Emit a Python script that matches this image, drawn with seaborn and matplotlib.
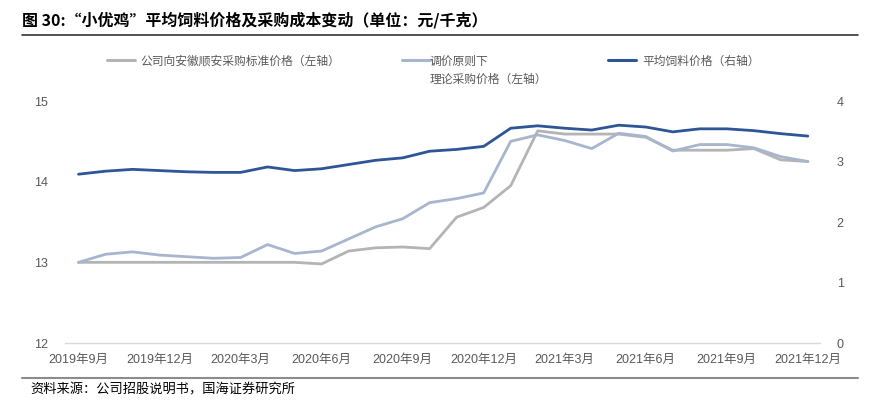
import pandas as pd
import matplotlib
matplotlib.use("Agg")
import matplotlib.pyplot as plt
from matplotlib.lines import Line2D
import seaborn as sns

# Monthly data, 2019-09 .. 2021-12
months = pd.period_range("2019-09", "2021-12", freq="M").strftime("%Y-%m").tolist()

standard_price = [13.00, 13.00, 13.00, 13.00, 13.00, 13.00, 13.00, 13.00, 13.00, 12.98,
                  13.14, 13.18, 13.19, 13.17, 13.56, 13.68, 13.95, 14.63, 14.59, 14.59,
                  14.59, 14.55, 14.39, 14.39, 14.39, 14.41, 14.27, 14.25]
theory_price = [13.00, 13.10, 13.13, 13.09, 13.07, 13.05, 13.06, 13.22, 13.11, 13.14,
                13.29, 13.44, 13.54, 13.74, 13.79, 13.86, 14.50, 14.58, 14.51, 14.41,
                14.60, 14.56, 14.38, 14.46, 14.46, 14.42, 14.31, 14.25]
feed_price = [2.79, 2.84, 2.87, 2.85, 2.83, 2.82, 2.82, 2.91, 2.85, 2.88,
              2.95, 3.02, 3.06, 3.17, 3.20, 3.25, 3.55, 3.59, 3.55, 3.52,
              3.60, 3.57, 3.49, 3.54, 3.54, 3.51, 3.46, 3.42]

tick_labels = ["2019年9月", "2019年12月", "2020年3月", "2020年6月", "2020年9月",
               "2020年12月", "2021年3月", "2021年6月", "2021年9月", "2021年12月"]

labels = ["公司向安徽顺安采购标准价格（左轴）", "调价原则下\n理论采购价格（左轴）", "平均饲料价格（右轴）"]
colors = ["#B4B4B4", "#A7B5CD", "#2E5596"]

df = pd.DataFrame({
    "month": months,
    "idx": range(len(months)),
    "standard": standard_price,
    "theory": theory_price,
    "feed": feed_price,
})

sns.set_theme(style="white")
plt.rcParams["font.family"] = ["Liberation Sans", "Noto Sans CJK SC", "DejaVu Sans"]

fig = plt.figure(figsize=(8.8, 4.09), dpi=100)
ax = fig.add_axes([65 / 880, 1 - 343 / 409, (820 - 65) / 880, (343 - 101) / 409])
ax2 = ax.twinx()

sns.lineplot(data=df, x="idx", y="standard", ax=ax, color=colors[0], linewidth=2.0)
sns.lineplot(data=df, x="idx", y="theory", ax=ax, color=colors[1], linewidth=2.0)
sns.lineplot(data=df, x="idx", y="feed", ax=ax2, color=colors[2], linewidth=2.0)

ax.set_xlim(-0.5, 27.45)
ax.set_ylim(12, 15)
ax2.set_ylim(0, 4)
ax.set_yticks([12, 13, 14, 15])
ax2.set_yticks([0, 1, 2, 3, 4])
ax.set_xticks(range(0, 28, 3))
ax.set_xticklabels(tick_labels)

for a in (ax, ax2):
    a.set_xlabel("")
    a.set_ylabel("")
    for s in a.spines.values():
        s.set_visible(False)
    a.tick_params(length=0, labelsize=9, colors="#595959")
ax.tick_params(axis="y", pad=12)
ax2.tick_params(axis="y", pad=12)
ax.tick_params(axis="x", pad=8)
ax.spines["bottom"].set_visible(True)
ax.spines["bottom"].set_color("#D9D9D9")
ax.spines["bottom"].set_linewidth(1.0)

# Title and separators
fig.text(0.025, 0.951, "图 30:“小优鸡”平均饲料价格及采购成本变动（单位：元/千克）",
         fontsize=11.5, fontweight="bold", color="black", va="center",
         family=["Noto Sans CJK SC", "DejaVu Sans"])
fig.add_artist(Line2D([0.025, 0.975], [0.914, 0.914], color="#333333", linewidth=1.2))
fig.add_artist(Line2D([0.025, 0.975], [0.076, 0.076], color="#8C8C8C", linewidth=1.5))
fig.text(0.034, 0.046, "资料来源：公司招股说明书，国海证券研究所", fontsize=9.5,
         color="black", va="center", family=["Noto Sans CJK SC", "DejaVu Sans"])

# Legend
legend_x = [(107, 140), (402, 430), (608, 642)]
ly = 1 - 60 / 409
for (hx, tx), lab, col in zip(legend_x, labels, colors):
    fig.add_artist(Line2D([hx / 880, (hx + 28) / 880], [ly, ly], color=col, linewidth=2.2))
    fig.text(tx / 880, ly + 0.012, lab, fontsize=8.5, color="#595959", va="top",
             linespacing=1.5, family=["Noto Sans CJK SC", "DejaVu Sans"])

fig.savefig("out.png", dpi=100)
